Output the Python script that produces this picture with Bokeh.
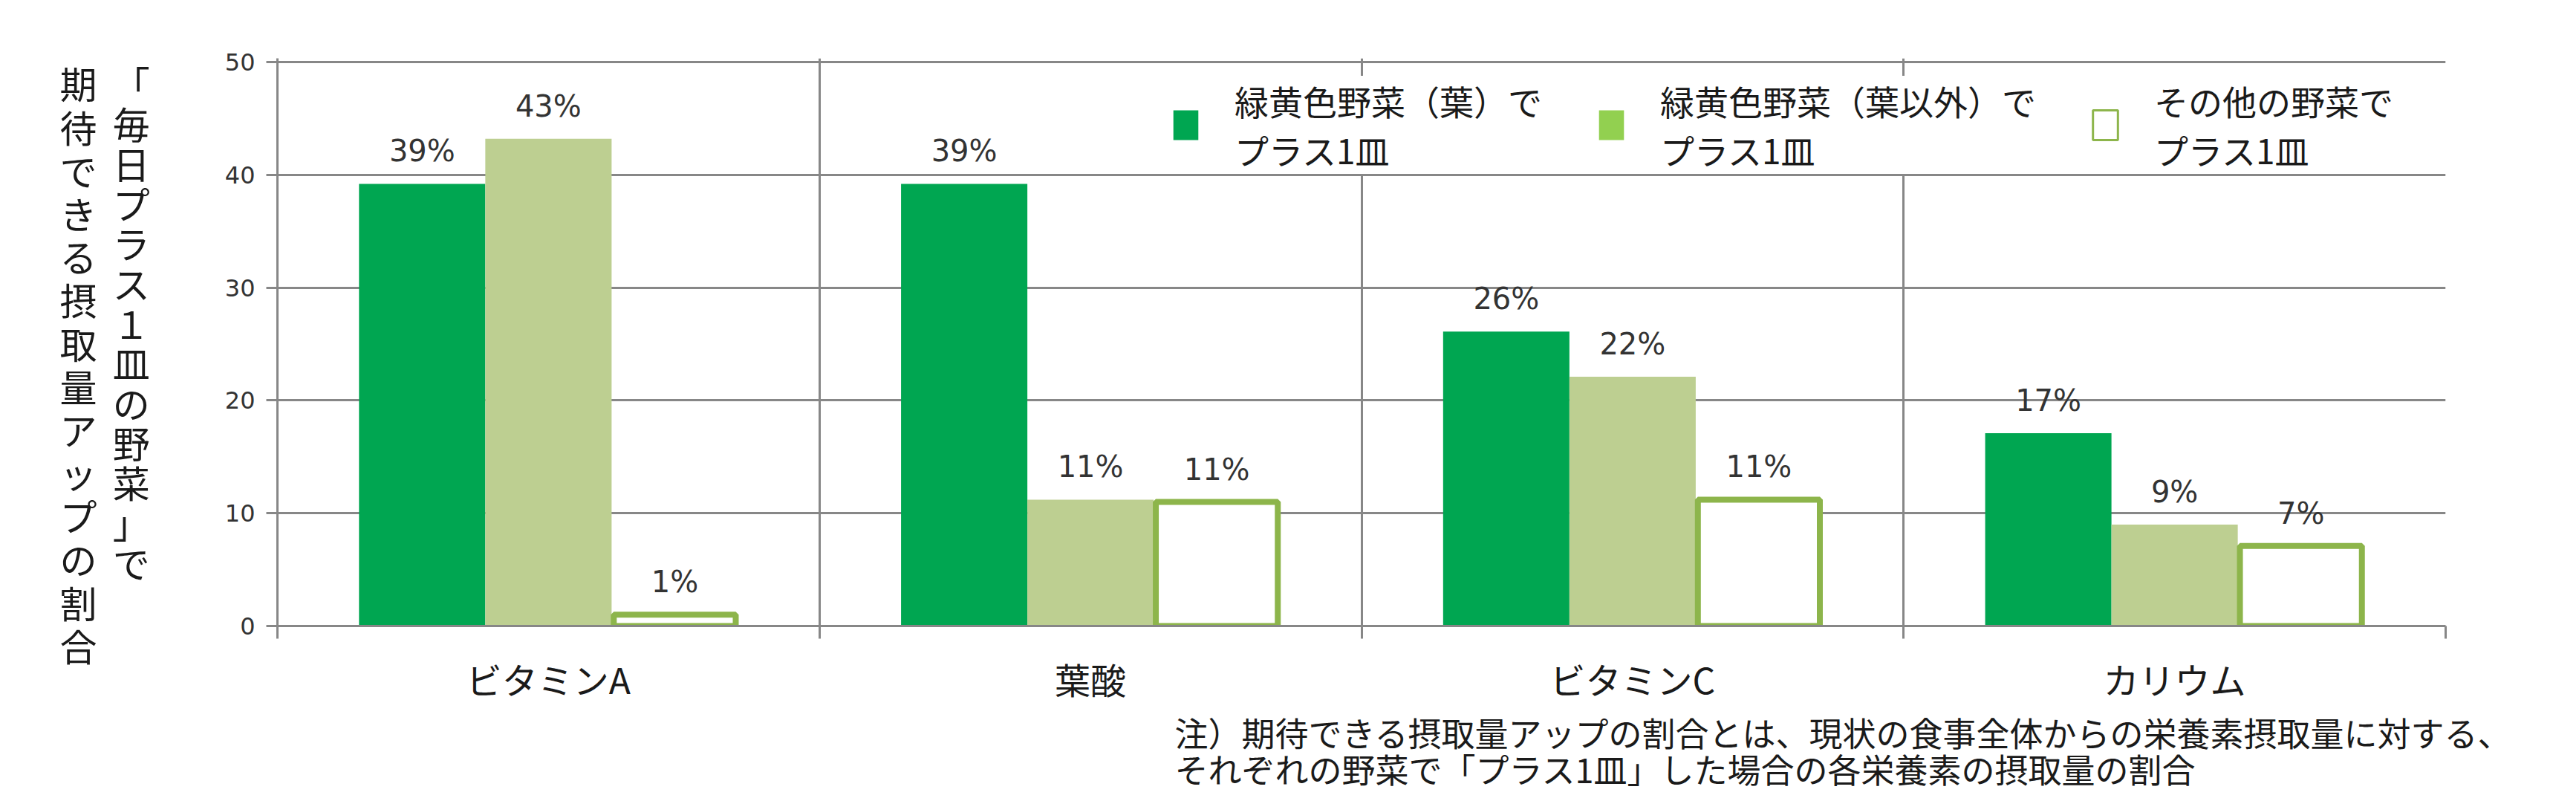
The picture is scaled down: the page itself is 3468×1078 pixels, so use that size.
from bokeh.plotting import figure
from bokeh.models import (ColumnDataSource, FactorRange, Range1d, LinearAxis, FixedTicker,
                          Legend, LegendItem, Title)
from bokeh.transform import dodge
from bokeh.core.properties import value
from bokeh.embed import file_html
from bokeh.resources import INLINE

# ---------------- data ----------------
categories = ["ビタミンA", "葉酸", "ビタミンC", "カリウム"]
series_names = ["緑黄色野菜（葉）で\nプラス1皿", "緑黄色野菜（葉以外）で\nプラス1皿", "その他の野菜で\nプラス1皿"]
green_leaf = [39.2, 39.2, 26.1, 17.1]
green_other = [43.2, 11.2, 22.1, 9.0]
other_veg = [1.0, 11.0, 11.2, 7.1]
y_ticks = [0, 10, 20, 30, 40, 50]
y_title_col1 = "「毎日プラス１皿の野菜」で"
y_title_col2 = "期待できる摂取量アップの割合"
note_lines = ["注）期待できる摂取量アップの割合とは、現状の食事全体からの栄養素摂取量に対する、",
              "それぞれの野菜で「プラス1皿」した場合の各栄養素の摂取量の割合"]

# ---------------- style / layout ----------------
W, H = 3452, 1066
FL, FR, FT, FB = 373, 160, 78, 220
Y_END = 50.33
GRID = "#878787"
C1, C2, C2L, C3 = "#00A651", "#BDCF91", "#92D050", "#8DB54B"
JP = "Noto Sans CJK JP"
TXT = "#1a1a1a"
BW = 0.233

src = ColumnDataSource(dict(
    cat=categories,
    g=green_leaf, o=green_other, v=other_veg,
    gl=[f"{x:.0f}%" for x in green_leaf],
    ol=[f"{x:.0f}%" for x in green_other],
    vl=[f"{x:.0f}%" for x in other_veg],
))

p = figure(x_range=FactorRange(*categories), y_range=Range1d(0, Y_END),
           width=W, height=H, output_backend="svg", toolbar_location=None,
           min_border_left=FL, min_border_right=FR, min_border_top=FT, min_border_bottom=FB,
           background_fill_color="white", border_fill_color="white")
p.outline_line_color = None

# grids
p.ygrid.ticker = FixedTicker(ticks=y_ticks)
p.ygrid.grid_line_color = GRID
p.ygrid.grid_line_width = 3
p.xgrid.ticker = FixedTicker(ticks=[1, 2, 3])
p.xgrid.grid_line_color = GRID
p.xgrid.grid_line_width = 3

# y axis (+ upright vertical title, first column)
ya = p.yaxis[0]
ya.ticker = FixedTicker(ticks=y_ticks)
ya.axis_line_color = GRID
ya.axis_line_width = 3
ya.major_tick_line_color = GRID
ya.major_tick_line_width = 3
ya.major_tick_out = 15
ya.major_tick_in = 0
ya.minor_tick_line_color = None
ya.major_label_standoff = 15
ya.major_label_text_font = "DejaVu Sans"
ya.major_label_text_font_size = "32px"
ya.major_label_text_color = "#333333"
ya.axis_label = "\n".join(y_title_col1) + "\n"
ya.axis_label_orientation = "horizontal"
ya.axis_label_standoff = 98
ya.axis_label_text_font = JP
ya.axis_label_text_font_size = "50px"
ya.axis_label_text_font_style = "normal"
ya.axis_label_text_color = TXT
ya.axis_label_text_align = "center"
ya.axis_label_text_line_height = 0.746

# second column of the vertical title
ya2 = LinearAxis(ticker=FixedTicker(ticks=[]))
ya2.axis_line_color = None
ya2.major_tick_line_color = None
ya2.minor_tick_line_color = None
ya2.major_label_text_font_size = "0px"
ya2.major_label_text_color = None
ya2.axis_label = "\n" + "\n".join(y_title_col2)
ya2.axis_label_orientation = "horizontal"
ya2.axis_label_standoff = 18
ya2.axis_label_text_font = JP
ya2.axis_label_text_font_size = "50px"
ya2.axis_label_text_font_style = "normal"
ya2.axis_label_text_color = TXT
ya2.axis_label_text_align = "center"
ya2.axis_label_text_line_height = 0.808
p.add_layout(ya2, "left")

# x axes: separator ticks + category labels
cat_axis = p.xaxis[0]
cat_axis.axis_line_color = None
cat_axis.major_tick_line_color = None
cat_axis.minor_tick_line_color = None
cat_axis.major_label_text_font = JP
cat_axis.major_label_text_font_size = "48px"
cat_axis.major_label_text_color = TXT
cat_axis.major_label_standoff = 12

tick_axis = LinearAxis(ticker=FixedTicker(ticks=[0, 1, 2, 3, 4]))
tick_axis.axis_line_color = GRID
tick_axis.axis_line_width = 3
tick_axis.major_tick_line_color = GRID
tick_axis.major_tick_line_width = 3
tick_axis.major_tick_out = 17
tick_axis.major_tick_in = 0
tick_axis.minor_tick_line_color = None
tick_axis.major_label_text_font_size = "0px"
tick_axis.major_label_text_color = None
tick_axis.major_label_standoff = 0
p.below = [tick_axis, cat_axis]

# footnote (two lines under the category labels)
p.add_layout(Title(text="\n".join(note_lines), align="left", offset=1208, standoff=0,
                   text_font=JP, text_font_size="45px", text_font_style="normal",
                   text_color=TXT, text_line_height=0.75), "below")

# bars
r1 = p.vbar(x=dodge("cat", -BW, range=p.x_range), top="g", width=BW, source=src,
            fill_color=C1, line_color=None)
r2 = p.vbar(x=dodge("cat", 0, range=p.x_range), top="o", width=BW, source=src,
            fill_color=C2, line_color=None)
r3 = p.vbar(x=dodge("cat", BW, range=p.x_range), top="v", width=BW - 0.008, source=src,
            fill_color="white", line_color=C3, line_width=8)

# bar value labels
for off, col, top in [(-BW, "gl", "g"), (0, "ol", "o"), (BW, "vl", "v")]:
    p.text(x=dodge("cat", off, range=p.x_range), y=top, text=col, source=src,
           text_align="center", text_baseline="alphabetic", y_offset=-44,
           text_font=value("DejaVu Sans"), text_font_size="40px", text_color="#333333")

# legend proxies (zero-height, so only their legend swatches show)
d2 = p.vbar(x=dodge("cat", 0, range=p.x_range), top=0, width=BW, source=src,
            fill_color=C2L, line_color=None)
d3 = p.vbar(x=dodge("cat", BW, range=p.x_range), top=0, width=BW, source=src,
            fill_color="white", line_color=C3, line_width=3)
legend = Legend(items=[LegendItem(label=series_names[0], renderers=[r1]),
                       LegendItem(label=series_names[1], renderers=[d2]),
                       LegendItem(label=series_names[2], renderers=[d3])],
                orientation="horizontal", location=(1202, 608),
                background_fill_color="white", background_fill_alpha=1.0,
                border_line_color=None, padding=8, margin=0, spacing=72,
                glyph_width=42, glyph_height=50, label_standoff=45,
                label_text_font=JP, label_text_font_size="46px",
                label_text_color=TXT, label_text_line_height=0.99)
p.add_layout(legend, "center")

open("out.html", "w").write(file_html(p, INLINE))
